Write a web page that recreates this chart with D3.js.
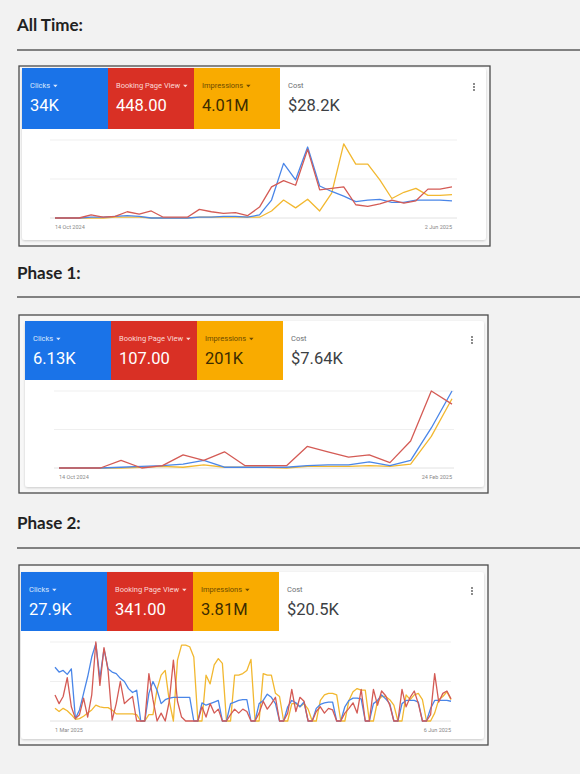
<!DOCTYPE html>
<html><head><meta charset="utf-8">
<script src="https://cdn.jsdelivr.net/npm/d3@7"></script>
<style>body{margin:0;background:#f2f2f2;}svg{display:block;}</style>
</head><body>
<script>
// ---- data ----
const tileLabels = ["Clicks", "Booking Page View", "Impressions", "Cost"];
const allTimeValues = ["34K", "448.00", "4.01M", "$28.2K"];
const phase1Values = ["6.13K", "107.00", "201K", "$7.64K"];
const phase2Values = ["27.9K", "341.00", "3.81M", "$20.5K"];
const allTimeDates = ["14 Oct 2024", "2 Jun 2025"];
const phase1Dates = ["14 Oct 2024", "24 Feb 2025"];
const phase2Dates = ["1 Mar 2025", "6 Jun 2025"];

const allClicks = [0,0,0,1,1,2,3,2,0,0,0,0,1,1,2,2,1,4,23,70,49,91,41,34,28,21,23,24,20,20,23,23,23,22];
const allBooking = [0,0,0,4,1,2,8,5,9,1,1,1,11,8,6,7,3,14,40,48,42,88,36,38,40,17,15,18,23,19,22,37,37,40];
const allImpr = [0,0,0,0,0,1,1,1,0,0,0,0,1,1,1,1,1,1,9,23,13,24,9,32,95,69,69,49,25,33,38,29,29,30];

const p1Clicks = [0,0,0,1,2,3,5,10,1,1,1,1,3,4,4,8,3,10,52,100];
const p1Booking = [0,0,0,10,0,3,17,10,21,3,3,3,28,21,14,17,7,35,100,83];
const p1Impr = [0,0,0,0,1,2,1,4,1,1,1,0,2,2,2,3,2,5,41,90];

const p2Clicks = [68,62,64,59,66,3,14,35,56,81,98,54,91,66,62,60,54,50,41,36,39,0,0,35,50,39,22,27,29,30,30,30,30,30,0,0,23,20,22,24,26,0,0,22,24,26,27,27,0,0,22,26,34,30,22,0,0,18,26,23,18,24,0,0,16,21,23,24,24,0,0,18,26,29,29,28,0,0,22,26,33,28,22,0,0,22,26,26,26,24,0,0,16,26,26,26,26,25];
const p2Booking = [33,22,31,55,18,3,8,29,5,33,100,45,93,64,1,22,50,22,27,31,0,0,0,60,27,0,10,0,25,77,25,5,0,0,0,0,18,5,22,10,15,0,0,8,15,10,15,12,0,0,10,25,15,22,30,0,0,10,40,12,30,25,0,0,12,18,10,16,14,0,0,10,16,23,10,40,0,0,40,20,38,32,20,0,0,40,18,30,38,22,0,0,8,60,24,35,38,28];
const p2Impr = [16,12,16,13,8,2,3,6,10,14,20,18,17,17,14,9,9,9,9,9,8,0,0,8,8,40,58,64,25,0,77,96,96,94,81,0,0,58,47,71,79,73,0,0,58,58,60,64,78,0,0,60,58,58,35,31,0,0,22,22,18,22,15,0,0,26,33,35,35,33,0,0,26,37,41,39,39,0,0,25,31,31,27,20,0,0,33,27,33,35,27,0,0,10,27,31,37,27];

const panels = [
  {title:"All Time:", values:allTimeValues, dates:allTimeDates, series:[allClicks,allBooking,allImpr],
   titleY:31, ruleY:50, frame:[19,66,471,180], tileX:22, tileY:68, tileH:61, gx:[50,457], lx:[55,452], top:140, base:218},
  {title:"Phase 1:", values:phase1Values, dates:phase1Dates, series:[p1Clicks,p1Booking,p1Impr],
   titleY:279, ruleY:297, frame:[19,315,469,178], tileX:25, tileY:321, tileH:59, gx:[54,454], lx:[59,452], top:391, base:468},
  {title:"Phase 2:", values:phase2Values, dates:phase2Dates, series:[p2Clicks,p2Booking,p2Impr],
   titleY:529, ruleY:548, frame:[19,565,469,180], tileX:21, tileY:572, tileH:59, gx:[50,451], lx:[55,451], top:642, base:721}
];

const tileFill = ["#1a73e8","#d93025","#f9ab00","#ffffff"];
const tileLabelColor = ["#dbe8fd","#fbd9d6","#6b4a00","#6b6f73"];
const tileValueColor = ["#ffffff","#ffffff","#3c2c00","#3c4043"];
const lineColors = ["#4a86e8","#d45b55","#f2b830"];

const svg = d3.select("body").append("svg").attr("width",580).attr("height",774);
const defs = svg.append("defs");
const f = defs.append("filter").attr("id","sh").attr("x","-5%").attr("y","-5%").attr("width","110%").attr("height","115%");
f.append("feDropShadow").attr("dx",0).attr("dy",1).attr("stdDeviation",1.2).attr("flood-color","#000").attr("flood-opacity",0.18);

panels.forEach(p => {
  const g = svg.append("g");
  g.append("text").attr("x",17).attr("y",p.titleY).text(p.title)
    .attr("font-family","Lato, sans-serif").attr("font-weight",700).attr("font-size",17).attr("fill","#222");
  g.append("line").attr("x1",17).attr("x2",580).attr("y1",p.ruleY).attr("y2",p.ruleY).attr("stroke","#111").attr("stroke-width",1);
  const [fx,fy,fw,fh] = p.frame;
  g.append("rect").attr("x",fx).attr("y",fy).attr("width",fw).attr("height",fh).attr("fill","#f7f7f7").attr("stroke","#4a4a4a").attr("stroke-width",1.3);
  g.append("rect").attr("x",p.tileX).attr("y",p.tileY).attr("width",fx+fw-4-p.tileX).attr("height",fy+fh-6-p.tileY)
    .attr("rx",3).attr("fill","#fff").attr("filter","url(#sh)");
  tileLabels.forEach((lab,i) => {
    const tx = p.tileX + i*86;
    g.append("rect").attr("x",tx).attr("y",p.tileY).attr("width",86).attr("height",p.tileH).attr("fill",tileFill[i]);
    const t = g.append("text").attr("x",tx+8).attr("y",p.tileY+20).text(lab)
      .attr("font-family","Roboto, sans-serif").attr("font-size",7.5).attr("fill",tileLabelColor[i]);
    if(i<3){
      const w = t.node().getComputedTextLength();
      g.append("path").attr("d",`M${tx+8+w+3},${p.tileY+16.8} l4.4,0 l-2.2,2.4 z`).attr("fill",tileLabelColor[i]);
    }
    g.append("text").attr("x",tx+8).attr("y",p.tileY+43).text(p.values[i])
      .attr("font-family","Roboto, sans-serif").attr("font-size",16.5).attr("fill",tileValueColor[i]);
  });
  [0,1,2].forEach(k => g.append("circle").attr("cx",fx+fw-16).attr("cy",p.tileY+16+k*3).attr("r",0.9).attr("fill","#555"));
  const y = d3.scaleLinear().domain([0,100]).range([p.base,p.top]);
  [0,50,100].forEach(v => g.append("line").attr("x1",p.gx[0]).attr("x2",p.gx[1]).attr("y1",y(v)).attr("y2",y(v))
     .attr("stroke", v===0?"#e2e2e2":"#efefef").attr("stroke-width",1));
  const n = p.series[0].length;
  const x = d3.scaleLinear().domain([0,n-1]).range(p.lx);
  const line = d3.line().x((d,i)=>x(i)).y(d=>y(d));
  [2,0,1].forEach(si => g.append("path").datum(p.series[si]).attr("d",line).attr("fill","none")
     .attr("stroke",lineColors[si]).attr("stroke-width",1.3).attr("stroke-linejoin","round"));
  g.append("text").attr("x",p.lx[0]).attr("y",p.base+11).text(p.dates[0])
    .attr("font-family","Roboto, sans-serif").attr("font-size",5.5).attr("fill","#888");
  g.append("text").attr("x",p.lx[1]).attr("y",p.base+11).attr("text-anchor","end").text(p.dates[1])
    .attr("font-family","Roboto, sans-serif").attr("font-size",5.5).attr("fill","#888");
});
</script>
</body></html>
